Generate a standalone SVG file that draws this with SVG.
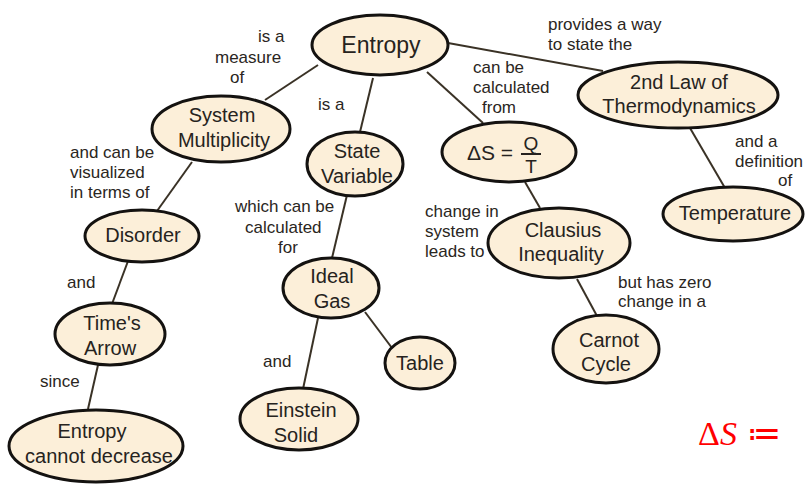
<svg xmlns="http://www.w3.org/2000/svg" width="805" height="491" viewBox="0 0 805 491">
  <style>
    .node ellipse { fill: #fcefd9; stroke: #141210; stroke-width: 3; }
    .node text { font-family: "Liberation Sans", Arial, sans-serif; font-size: 20px; fill: #262320; text-anchor: middle; }
    .lbl { font-family: "Liberation Sans", Arial, sans-serif; font-size: 17px; fill: #2a2622; }
    .edges line { stroke: #3a3226; stroke-width: 2; }
    .red { font-family: "Liberation Serif", "Times New Roman", serif; font-size: 34px; fill: #ff0000; }
  </style>

  <rect width="805" height="491" fill="#ffffff"/>

  <!-- connectors -->
  <g class="edges">
    <line x1="318" y1="65" x2="265" y2="100"/>
    <line x1="373" y1="78" x2="360" y2="132"/>
    <line x1="427" y1="72" x2="483" y2="123"/>
    <line x1="448" y1="43" x2="603" y2="71"/>
    <line x1="192" y1="162" x2="157" y2="211"/>
    <line x1="128" y1="261" x2="112" y2="304"/>
    <line x1="98" y1="365" x2="88" y2="409"/>
    <line x1="347" y1="195" x2="332" y2="258"/>
    <line x1="318" y1="318" x2="303" y2="389"/>
    <line x1="365" y1="312" x2="392" y2="348"/>
    <line x1="525" y1="182" x2="540" y2="208"/>
    <line x1="577" y1="279" x2="597" y2="316"/>
    <line x1="690" y1="128" x2="725" y2="188"/>
  </g>

  <!-- nodes -->
  <g id="entropy" class="node">
    <ellipse cx="380" cy="45" rx="68" ry="30"/>
    <text x="381" y="53" style="font-size:23px">Entropy</text>
  </g>
  <g id="system-multiplicity" class="node">
    <ellipse cx="221" cy="129" rx="69" ry="33"/>
    <text x="222" y="122">System</text>
    <text x="224" y="147">Multiplicity</text>
  </g>
  <g id="state-variable" class="node">
    <ellipse cx="355" cy="164" rx="48" ry="32"/>
    <text x="357" y="158">State</text>
    <text x="357" y="183">Variable</text>
  </g>
  <g id="delta-s" class="node">
    <ellipse cx="509" cy="152" rx="67" ry="30"/>
    <text x="467" y="160" style="font-size:21px;text-anchor:start">ΔS =</text>
    <text x="531" y="150" style="font-size:19px">Q</text>
    <line x1="521" y1="154" x2="541" y2="154" stroke="#262320" stroke-width="2"/>
    <text x="531" y="173" style="font-size:19px">T</text>
  </g>
  <g id="second-law" class="node">
    <ellipse cx="678" cy="95" rx="100" ry="33"/>
    <text x="679" y="89">2nd Law of</text>
    <text x="679" y="113">Thermodynamics</text>
  </g>
  <g id="temperature" class="node">
    <ellipse cx="733" cy="214" rx="70" ry="27"/>
    <text x="735" y="220">Temperature</text>
  </g>
  <g id="disorder" class="node">
    <ellipse cx="142" cy="236" rx="57" ry="26"/>
    <text x="143" y="242">Disorder</text>
  </g>
  <g id="clausius" class="node">
    <ellipse cx="559" cy="243" rx="71" ry="35"/>
    <text x="563" y="237">Clausius</text>
    <text x="561" y="261">Inequality</text>
  </g>
  <g id="ideal-gas" class="node">
    <ellipse cx="331" cy="288" rx="48" ry="30"/>
    <text x="332" y="283">Ideal</text>
    <text x="332" y="308">Gas</text>
  </g>
  <g id="times-arrow" class="node">
    <ellipse cx="110" cy="334" rx="55" ry="31"/>
    <text x="112" y="330">Time's</text>
    <text x="110" y="355">Arrow</text>
  </g>
  <g id="table" class="node">
    <ellipse cx="420" cy="363" rx="35" ry="26"/>
    <text x="420" y="370">Table</text>
  </g>
  <g id="carnot-cycle" class="node">
    <ellipse cx="606" cy="349" rx="53" ry="34"/>
    <text x="609" y="347">Carnot</text>
    <text x="606" y="371">Cycle</text>
  </g>
  <g id="einstein-solid" class="node">
    <ellipse cx="299" cy="419" rx="59" ry="31"/>
    <text x="301" y="417">Einstein</text>
    <text x="296" y="442">Solid</text>
  </g>
  <g id="entropy-cannot-decrease" class="node">
    <ellipse cx="96" cy="446" rx="87" ry="36"/>
    <text x="92" y="438">Entropy</text>
    <text x="99" y="463">cannot decrease</text>
  </g>

  <!-- link labels -->
  <g id="labels" class="lbl">
    <text x="258" y="42">is a</text>
    <text x="215" y="63">measure</text>
    <text x="230" y="83">of</text>
    <text x="318" y="110">is a</text>
    <text x="473" y="73">can be</text>
    <text x="473" y="93">calculated</text>
    <text x="482" y="113">from</text>
    <text x="548" y="30">provides a way</text>
    <text x="548" y="50">to state the</text>
    <text x="70" y="158">and can be</text>
    <text x="70" y="178">visualized</text>
    <text x="70" y="198">in terms of</text>
    <text x="67" y="288">and</text>
    <text x="40" y="387">since</text>
    <text x="235" y="212">which can be</text>
    <text x="245" y="233">calculated</text>
    <text x="278" y="253">for</text>
    <text x="263" y="367">and</text>
    <text x="425" y="217">change in</text>
    <text x="425" y="237">system</text>
    <text x="425" y="257">leads to</text>
    <text x="618" y="288">but has zero</text>
    <text x="618" y="307">change in a</text>
    <text x="735" y="147">and a</text>
    <text x="735" y="167">definition</text>
    <text x="778" y="186">of</text>
  </g>

  <!-- red definition mark -->
  <text class="red" x="698" y="445">Δ<tspan font-style="italic">S</tspan><tspan dx="10">≔</tspan></text>
</svg>
